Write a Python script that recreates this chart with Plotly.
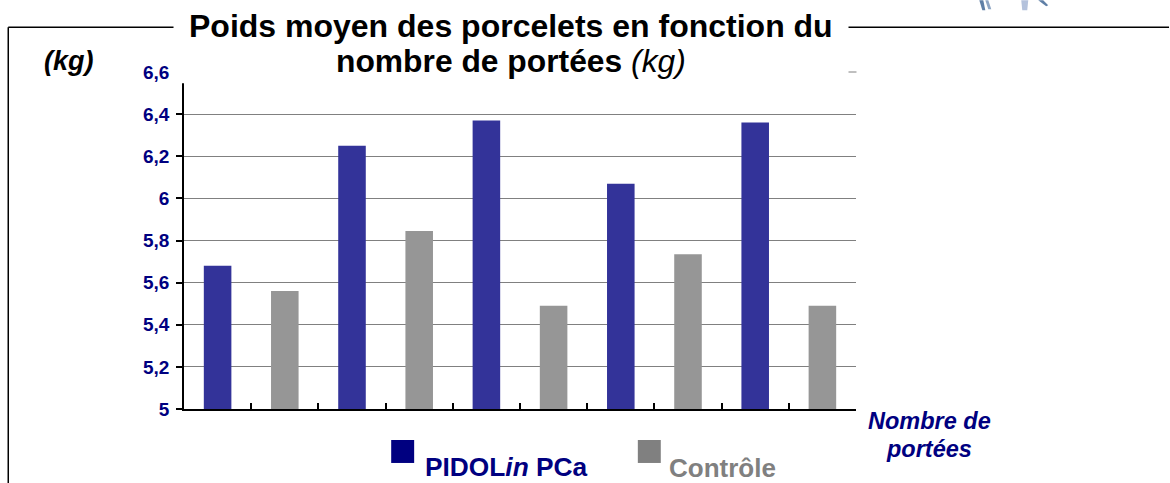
import plotly.graph_objects as go

W, H = 1170, 483
L, R, T, B = 183.5, 856.5, 71.8, 409.0

categories = ["1", "2", "3", "4", "5", "6", "7", "8", "9", "10"]
pidolin_x = ["1", "3", "5", "7", "9"]
pidolin_y = [5.68, 6.25, 6.37, 6.07, 6.36]
controle_x = ["2", "4", "6", "8", "10"]
controle_y = [5.56, 5.845, 5.49, 5.735, 5.49]
tick_vals = [5, 5.2, 5.4, 5.6, 5.8, 6, 6.2, 6.4, 6.6]
tick_text = ["5", "5,2", "5,4", "5,6", "5,8", "6", "6,2", "6,4", "6,6"]

NAVY = "#000080"
FONT = "Liberation Sans, Arial, sans-serif"


def px(x):
    return (x - L) / (R - L)


def py(y):
    return (B - y) / (B - T)


fig = go.Figure()
fig.add_bar(x=pidolin_x, y=pidolin_y, name="PIDOLin PCa", marker=dict(color="#333399", line_width=0), width=0.41)
fig.add_bar(x=controle_x, y=controle_y, name="Contrôle", marker=dict(color="#969696", line_width=0), width=0.41)


def line(x0, y0, x1, y1, color="black", width=1.5):
    return dict(type="line", xref="paper", yref="paper", x0=px(x0), y0=py(y0), x1=px(x1), y1=py(y1),
                line=dict(color=color, width=width), layer="above")


def rect(x0, y0, x1, y1, color):
    return dict(type="rect", xref="paper", yref="paper", x0=px(x0), y0=py(y0), x1=px(x1), y1=py(y1),
                fillcolor=color, line_width=0, layer="above")


def sliver(points, color):
    path = "M " + " L ".join(f"{px(x):.5f},{py(y):.5f}" for x, y in points) + " Z"
    return dict(type="path", xref="paper", yref="paper", path=path, fillcolor=color, line_width=0, layer="above")


shapes = [
    rect(173, 0, 849, 83, "white"),
    line(849, 71.8, 857, 71.8, "#808080", 1),
    line(7.5, 27, 173, 27),
    line(849, 27, 1170, 27),
    line(7.5, 27, 7.5, 483),
    rect(391, 440, 414, 463, NAVY),
    rect(638, 440, 661, 463, "#808080"),
    sliver([(980, 0), (984, 0), (986, 10), (983, 10)], "#5f7fa6"),
    sliver([(986, 0), (989, 0), (992, 9), (989, 9)], "#8fa6c4"),
    sliver([(1022, 0), (1029, 0), (1028, 10), (1023, 10)], "#b4c2dc"),
    sliver([(1039, 0), (1044, 0), (1049, 5), (1047, 6)], "#5f7fa6"),
]


def note(x, y, text, size, color, anchor="center"):
    return dict(xref="paper", yref="paper", x=px(x), y=py(y), text=text, showarrow=False,
                xanchor=anchor, yanchor="middle", align="center",
                font=dict(family=FONT, size=size, color=color))


annotations = [
    note(511, 26, "<b>Poids moyen des porcelets en fonction du</b>", 32, "black"),
    note(511, 61, "<b>nombre de portées</b> <i>(kg)</i>", 31.8, "black"),
    note(68, 61, "<b><i>(kg)</i></b>", 27, "black"),
    note(930, 421, "<b><i>Nombre de</i></b>", 23.5, NAVY),
    note(930, 449, "<b><i>portées</i></b>", 23.5, NAVY),
    note(423, 467.5, "<b>PIDOL<i>in</i> PCa</b>", 26.3, NAVY, "left"),
    note(667.5, 468, "<b>Contrôle</b>", 26, "#808080", "left"),
]

fig.update_layout(
    width=W, height=H, autosize=False,
    margin=dict(l=L, r=W - R, t=T, b=H - B, pad=0),
    paper_bgcolor="white", plot_bgcolor="white",
    showlegend=False, barmode="overlay",
    shapes=shapes, annotations=annotations,
    font=dict(family=FONT),
    xaxis=dict(type="category", categoryorder="array", categoryarray=categories,
               tickson="boundaries", ticks="inside", ticklen=6, tickwidth=1.5, tickcolor="black",
               showticklabels=False, showgrid=False, zeroline=False,
               showline=True, linecolor="black", linewidth=1.5),
    yaxis=dict(range=[5, 6.6], tickmode="array", tickvals=tick_vals, ticktext=tick_text,
               ticks="outside", ticklen=6, tickwidth=1.5, tickcolor="black", ticklabelstandoff=3,
               tickfont=dict(family=FONT, size=19, color=NAVY, weight="bold"),
               showgrid=True, gridcolor="#808080", gridwidth=1, zeroline=False,
               showline=True, linecolor="black", linewidth=1.5),
)

fig.write_html("out.html", config={"displayModeBar": False},
               post_script="document.body.style.margin='0';")
